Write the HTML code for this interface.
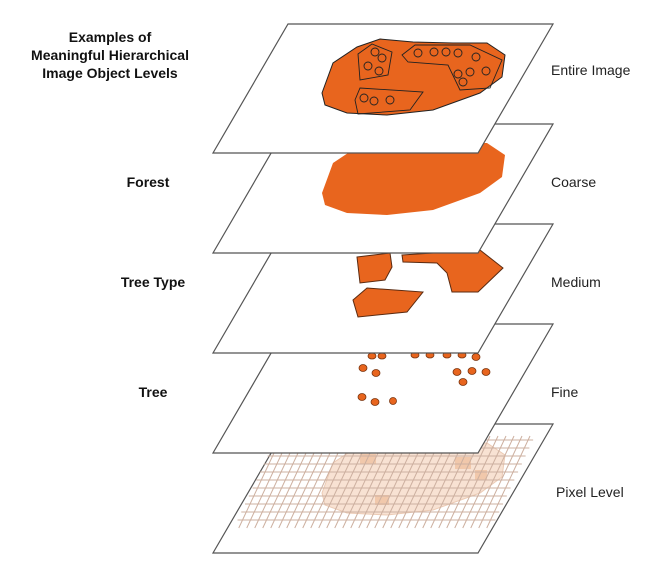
<!DOCTYPE html>
<html><head><meta charset="utf-8"><style>
body{margin:0;background:#fff;}
svg{display:block;font-family:"Liberation Sans",sans-serif;}
.lb{font-weight:bold;font-size:14px;text-anchor:middle;fill:#111;}
.rb{font-size:14px;fill:#222;}
.pl{fill:#fff;stroke:#555;stroke-width:1.2;}
</style></head><body>
<svg width="671" height="585" viewBox="0 0 671 585">
<g>
<polygon class="pl" points="288,424 553,424 478,553 213,553"/>
<path d="M322,493 L333,463 L357,447 L380,439 L413,442 L453,443 L487,443 L505,455 L502,477 L480,493 L433,510 L387,515 L347,513 L325,505Z" fill="#f8e2d3" stroke="#eccbb5"/>
<g fill="#f0c2a2" opacity="0.8"><rect x="360" y="454" width="16" height="10"/><rect x="455" y="457" width="16" height="12"/><rect x="375" y="495" width="14" height="10"/><rect x="475" y="470" width="12" height="10"/></g>
<g id="grid" stroke="#cdb0a0" stroke-width="1"></g>
</g>
<g>
<polygon class="pl" points="288,324 553,324 478,453 213,453"/>
<g fill="#e8651e" stroke="#7a3510" stroke-width="0.8">
<ellipse cx="372" cy="356" rx="4" ry="3"/><ellipse cx="382" cy="356" rx="4" ry="3"/><ellipse cx="415" cy="355" rx="4" ry="3"/><ellipse cx="430" cy="355" rx="4" ry="3"/><ellipse cx="447" cy="355" rx="4" ry="3"/><ellipse cx="462" cy="355" rx="4" ry="3"/><ellipse cx="476" cy="357" rx="4" ry="3.5"/>
<ellipse cx="363" cy="368" rx="4" ry="3.5"/><ellipse cx="376" cy="373" rx="4" ry="3.5"/><ellipse cx="457" cy="372" rx="4" ry="3.5"/><ellipse cx="472" cy="371" rx="4" ry="3.5"/><ellipse cx="486" cy="372" rx="4" ry="3.5"/><ellipse cx="463" cy="382" rx="4" ry="3.5"/>
<ellipse cx="362" cy="397" rx="4" ry="3.5"/><ellipse cx="375" cy="402" rx="4" ry="3.5"/><ellipse cx="393" cy="401" rx="3.5" ry="3.5"/>
</g></g>
<g>
<polygon class="pl" points="288,224 553,224 478,353 213,353"/>
<g fill="#e8651e" stroke="#5a2a10" stroke-width="1">
<polygon points="357,257 390,253 392,267 385,280 360,283"/>
<polygon points="402,255 480,250 503,268 478,292 452,292 447,273 437,263 403,262"/>
<polygon points="353,300 367,288 423,292 407,312 358,317"/>
</g></g>
<g>
<polygon class="pl" points="288,124 553,124 478,253 213,253"/>
<path d="M322,193 L333,163 L357,147 L380,139 L413,142 L453,143 L487,143 L505,155 L502,177 L480,193 L433,210 L387,215 L347,213 L325,205Z" fill="#e8651e"/>
</g>
<g>
<polygon class="pl" points="288,24 553,24 478,153 213,153"/>
<path d="M322,93 L333,63 L357,47 L380,39 L413,42 L453,43 L487,43 L505,55 L502,77 L480,93 L433,110 L387,115 L347,113 L325,105Z" fill="#e8651e" stroke="#222" stroke-width="1"/>
<g fill="none" stroke="#222" stroke-width="0.9">
<polygon points="358,54 372,44 392,52 388,75 360,80"/>
<polygon points="402,55 415,45 470,45 502,60 490,88 460,90 448,65 408,62"/>
<polygon points="355,100 360,88 423,92 410,110 358,114"/>
<circle cx="375" cy="52" r="4"/><circle cx="382" cy="58" r="4"/><circle cx="368" cy="66" r="4"/><circle cx="379" cy="71" r="4"/>
<circle cx="418" cy="53" r="4"/><circle cx="434" cy="52" r="4"/><circle cx="446" cy="52" r="4"/><circle cx="458" cy="53" r="4"/><circle cx="476" cy="57" r="4"/>
<circle cx="458" cy="74" r="4"/><circle cx="470" cy="72" r="4"/><circle cx="486" cy="71" r="4"/><circle cx="463" cy="82" r="4"/>
<circle cx="364" cy="98" r="4"/><circle cx="374" cy="101" r="4"/><circle cx="390" cy="100" r="4"/>
</g></g>
<text class="lb" x="110" y="42">Examples of</text>
<text class="lb" x="110" y="60">Meaningful Hierarchical</text>
<text class="lb" x="110" y="78">Image Object Levels</text>
<text class="lb" x="148" y="187">Forest</text>
<text class="lb" x="153" y="287">Tree Type</text>
<text class="lb" x="153" y="397">Tree</text>
<text class="rb" x="551" y="75">Entire Image</text>
<text class="rb" x="551" y="187">Coarse</text>
<text class="rb" x="551" y="287">Medium</text>
<text class="rb" x="551" y="397">Fine</text>
<text class="rb" x="556" y="497">Pixel Level</text>
</svg>
<script>
var g=document.getElementById('grid'),ns='http://www.w3.org/2000/svg';
var k=0.47,y0=436,y1=528;
for(var y=440;y<=526;y+=8){var l=document.createElementNS(ns,'line');var xs=280-(y-y0)*k;l.setAttribute('x1',xs-3);l.setAttribute('x2',xs+255);l.setAttribute('y1',y);l.setAttribute('y2',y);g.appendChild(l);}
for(var x=282;x<=534;x+=8){var l=document.createElementNS(ns,'line');l.setAttribute('x1',x);l.setAttribute('y1',y0);l.setAttribute('x2',x-(y1-y0)*k);l.setAttribute('y2',y1);g.appendChild(l);}
</script>
</body></html>
